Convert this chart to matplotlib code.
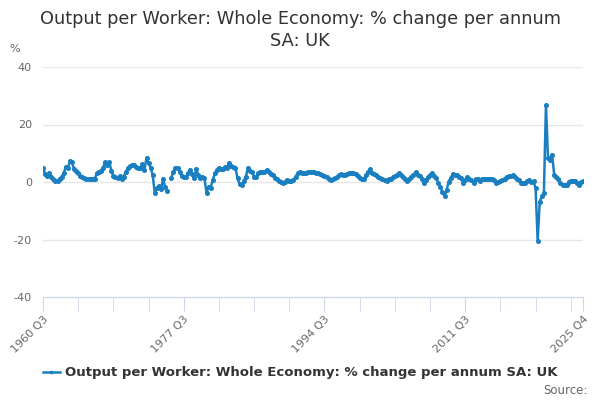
import matplotlib
matplotlib.use('Agg')
import matplotlib.pyplot as plt
import numpy as np

plt.rcParams['font.family'] = ['DejaVu Sans']
plt.rcParams['axes.unicode_minus'] = False

title = 'Output per Worker: Whole Economy: % change per annum\nSA: UK'
series_name = 'Output per Worker: Whole Economy: % change per annum SA: UK'

# quarterly values, 1960 Q3 .. 2025 Q4 (None = missing)
values_1960s = [4.8, 2.8, 2.2, 3.2, 1.9, 1.2, 0.5, 0.4, 1.2, 1.9,
                3.0, 5.3, 4.8, 7.3, 6.8, 4.5, 4.0, 3.0, 2.2, 1.6,
                1.5, 1.2, 0.9, 1.0, 1.1, 1.1, 3.0, 3.6, 4.0, 5.0,
                7.0, 5.8, 6.9, 4.0, 2.2, 1.8, 1.4, 2.0, 0.9, 1.8,
                3.6, 4.7]
values_1970s = [5.5, 5.9, 6.0, 5.2, 5.0, 5.0, 6.1, 4.2, 8.4, 6.5,
                5.0, 2.4, -3.9, -2.0, -1.4, -2.6, 1.0, -1.8, -3.1]
values_1975_91 = [None, 1.5, 3.5, 4.8, 5.0, 3.6, 2.2, 1.8, 1.6, 3.0,
                  4.2, 2.8, 1.3, 4.5, 2.5, 1.5, 1.9, 1.3, -3.7, -1.6,
                  -2.0, 0.7, 3.0, 4.2, 5.0, 4.6, 4.4, 5.1, 4.8, 6.7,
                  5.6, 5.2, 4.8, 1.3, -0.8, -1.0, 0.3, 1.9, 4.7, 4.0,
                  3.6, 1.9, 1.9, 3.0, 3.6, 3.4, 3.6, 4.2, 3.5, 2.8,
                  2.4, 1.5, 0.9, 0.4, 0.1, -0.5, 0.0, 0.7, 0.5, 0.5,
                  0.7, 1.9, 3.0, 3.6, 3.3, 3.0]
values_1992_2020 = [3.3, 3.6, 3.6, 3.4, 3.6, 3.2, 3.0, 2.7, 2.4, 2.2,
                    1.9, 1.2, 0.7, 1.0, 1.3, 1.9, 2.3, 2.7, 2.4, 2.6,
                    2.8, 3.0, 3.1, 3.2, 2.8, 2.1, 1.4, 1.0, 0.9, 2.4,
                    3.6, 4.4, 3.2, 2.9, 2.4, 1.9, 1.3, 1.0, 0.6, 0.5,
                    0.9, 1.2, 1.6, 2.0, 2.4, 3.0, 2.6, 1.9, 0.9, 0.5,
                    1.2, 1.9, 2.6, 3.4, 2.6, 2.1, 0.9, -0.2, 0.8, 1.6,
                    2.4, 3.0, 2.0, 1.3, -0.3, -1.6, -3.5, -4.9, -2.8, 0.1,
                    1.5, 2.7, 2.6, 2.5, 1.9, 1.3, -0.2, 0.7, 1.6, 1.2,
                    0.7, -0.2, 0.9, 0.9, 0.4, 0.9, 0.9, 0.9, 1.2, 1.2,
                    1.2, 0.7, -0.5, 0.0, 0.4, 0.8, 1.2, 1.9, 2.0, 2.2,
                    2.4, 1.6, 1.2, 0.7, -0.2, -0.3, -0.5, 0.4, 0.7, 0.1,
                    0.3, -2.2]
values_2020s = [-20.4, -6.8, -4.9, -3.9, 26.8, 8.2, 7.7, 9.4,
                2.4, 1.6, 0.9, -0.2, -1.0, -1.0, -1.2, 0.1, 0.5, 0.5,
                0.5, -0.2, -1.0, 0.1, 0.2]

tick_labels = ['1960 Q3', '1977 Q3', '1994 Q3', '2011 Q3', '2025 Q4']
y_ticks = [-40, -20, 0, 20, 40]

values = values_1960s + values_1970s + values_1975_91 + values_1992_2020 + values_2020s
y = np.array([np.nan if v is None else v for v in values], dtype=float)
x = np.arange(len(y))
n = len(y)

fig = plt.figure(figsize=(6, 4), dpi=100)
ax = fig.add_axes([0.0717, 0.2575, 0.9003, 0.575])

color = '#1a7fc1'
ax.plot(x, y, color=color, lw=1.8, marker='o', ms=2.6, mec=color, mfc=color,
        label=series_name, zorder=3)

ax.set_xlim(0, n - 1)
ax.set_ylim(-40, 40)
ax.set_yticks(y_ticks)
ax.yaxis.grid(True, color='#e6e6e6', lw=1)
ax.set_axisbelow(True)
for s in ['top', 'right', 'left']:
    ax.spines[s].set_visible(False)
ax.spines['bottom'].set_color('#ccd6eb')
ax.tick_params(axis='y', length=0, labelsize=8, labelcolor='#666666', pad=8)

major = [0, 68, 136, 204, n - 1]
minor = [t for t in range(0, n, 17) if t not in major]
ax.set_xticks(major)
ax.set_xticklabels(tick_labels, rotation=45, ha='right', rotation_mode='anchor')
ax.set_xticks(minor, minor=True)
ax.tick_params(axis='x', which='both', length=10, color='#ccd6eb',
               labelsize=8, labelcolor='#666666', pad=2)

fig.text(0.5, 0.975, title, ha='center', va='top', fontsize=12.8,
         color='#333333', linespacing=1.25)
fig.text(0.015, 0.87, '%', fontsize=8, color='#666666')

fig.legend(loc='center', bbox_to_anchor=(0.5, 0.068), frameon=False,
           prop={'size': 9.5, 'weight': 'bold'}, labelcolor='#333333',
           handlelength=1.3, handletextpad=0.4, markerscale=0.6)
fig.text(0.98, 0.025, 'Source:', ha='right', va='center', fontsize=8.5,
         color='#666666')

fig.savefig('out.png', dpi=100)
